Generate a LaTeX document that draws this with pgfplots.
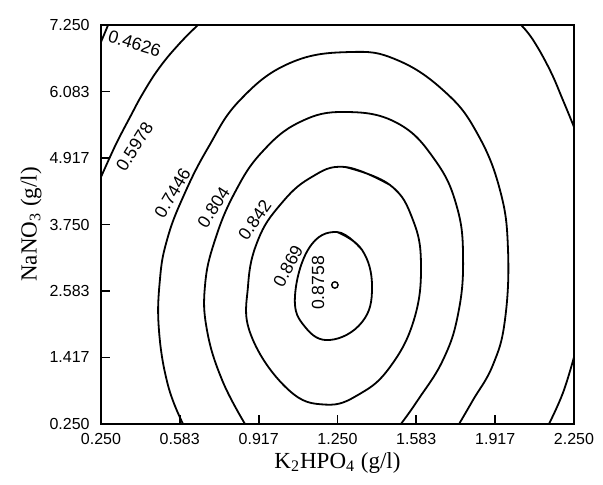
\documentclass[border=0pt]{standalone}
\usepackage{fontspec}
\setmainfont{Liberation Serif}
\newfontfamily\plotfont{Liberation Sans}
\usepackage{pgfplots}
\pgfplotsset{compat=1.18}
\pgfplotsset{cont/.style={black, line width=0.9pt, smooth, tension=0.72}}
\tikzset{lbl/.style={font=\plotfont\fontsize{8.8}{10}\selectfont, inner sep=0pt}}

\begin{document}
\begin{tikzpicture}
\begin{axis}[
  scale only axis,
  width=236.5pt, height=199.5pt,
  xmin=0.25, xmax=2.25, ymin=0.25, ymax=7.25,
  xtick={0.25,0.583,0.917,1.25,1.583,1.917,2.25},
  xticklabels={0.250,0.583,0.917,1.250,1.583,1.917,2.250},
  ytick={0.25,1.417,2.583,3.75,4.917,6.083,7.25},
  yticklabels={0.250,1.417,2.583,3.750,4.917,6.083,7.250},
  tick align=inside, xtick pos=bottom, ytick pos=left,
  major tick length=4.5pt,
  tick style={black, line width=0.8pt},
  axis line style={line width=1pt},
  ticklabel style={font=\plotfont\fontsize{8}{9}\selectfont, inner sep=0pt},
  xticklabel style={anchor=north, yshift=-4.5pt},
  yticklabel style={anchor=east, xshift=-5.5pt},
  xlabel={K\textsubscript{2}HPO\textsubscript{4} (g/l)},
  ylabel={NaNO\textsubscript{3} (g/l)},
  label style={font=\fontsize{11.5}{13}\selectfont, inner sep=0pt},
  xlabel style={at={(axis description cs:0.5,-0.0702)}, anchor=north},
  ylabel style={at={(axis description cs:-0.1247,0.5)}, anchor=south},
]
% 0.4626 (corner)
\addplot[cont] coordinates {(0.25,6.952) (0.280,7.25)};
% 0.5978
\addplot[cont] coordinates {(0.660,7.25) (0.584,6.934) (0.499,6.513) (0.428,6.057)
  (0.373,5.636) (0.322,5.232) (0.288,4.934) (0.25,4.583)};
\addplot[cont] coordinates {(2.026,7.25) (2.077,6.987) (2.148,6.461) (2.203,5.934) (2.25,5.461)};
\addplot[cont] coordinates {(2.25,1.425) (2.203,0.794) (2.144,0.25)};
% 0.7446
\addplot[cont] coordinates {(0.597,0.25) (0.533,0.934) (0.495,1.899) (0.499,2.776)
  (0.529,3.478) (0.597,4.232) (0.702,5.092) (0.838,5.934) (1.049,6.583) (1.303,6.776)
  (1.502,6.636) (1.705,6.075) (1.840,5.355) (1.937,4.355) (1.971,3.303) (1.958,2.075)
  (1.907,1.285) (1.823,0.671) (1.764,0.25)};
% 0.804
\addplot[cont] coordinates {(0.859,0.25) (0.762,1.022) (0.698,1.899) (0.690,2.689)
  (0.732,3.478) (0.817,4.320) (0.931,5.022) (1.091,5.548) (1.282,5.724) (1.502,5.531)
  (1.662,4.882) (1.755,4.057) (1.781,3.127) (1.759,2.162) (1.696,1.373) (1.590,0.671)
  (1.518,0.25)};
% 0.842
\addplot[cont] coordinates {(1.282,4.759) (1.472,4.443) (1.569,3.829) (1.603,3.039)
  (1.573,2.075) (1.472,1.25) (1.345,0.780) (1.200,0.590) (1.040,0.860) (0.884,1.811)
  (0.872,2.689) (0.914,3.478) (1.007,4.092) (1.134,4.566) (1.282,4.759) (1.472,4.443)};
% 0.869
\addplot[cont] coordinates {(1.248,3.618) (1.354,3.303) (1.396,2.654) (1.354,2.039)
  (1.218,1.724) (1.113,1.952) (1.070,2.478) (1.130,3.338) (1.248,3.618) (1.354,3.303)};
% optimum
\addplot[only marks, mark=o, mark size=1.6pt, mark options={line width=0.7pt, black}]
  coordinates {(1.239,2.689)};

\node[lbl, rotate=-17] at (axis cs:0.392,6.930) {0.4626};
\node[lbl, rotate=58] at (axis cs:0.392,5.120) {0.5978};
\node[lbl, rotate=59] at (axis cs:0.552,4.300) {0.7446};
\node[lbl, rotate=57] at (axis cs:0.726,4.050) {0.804};
\node[lbl, rotate=55] at (axis cs:0.900,3.830) {0.842};
\node[lbl, rotate=62] at (axis cs:1.041,3.022) {0.869};
\node[lbl, rotate=90] at (axis cs:1.168,2.724) {0.8758};
\end{axis}
\path (current axis.south west) ++(-50.5pt,-30.5pt) rectangle ++(301.5pt,242.5pt);
\end{tikzpicture}
\end{document}
